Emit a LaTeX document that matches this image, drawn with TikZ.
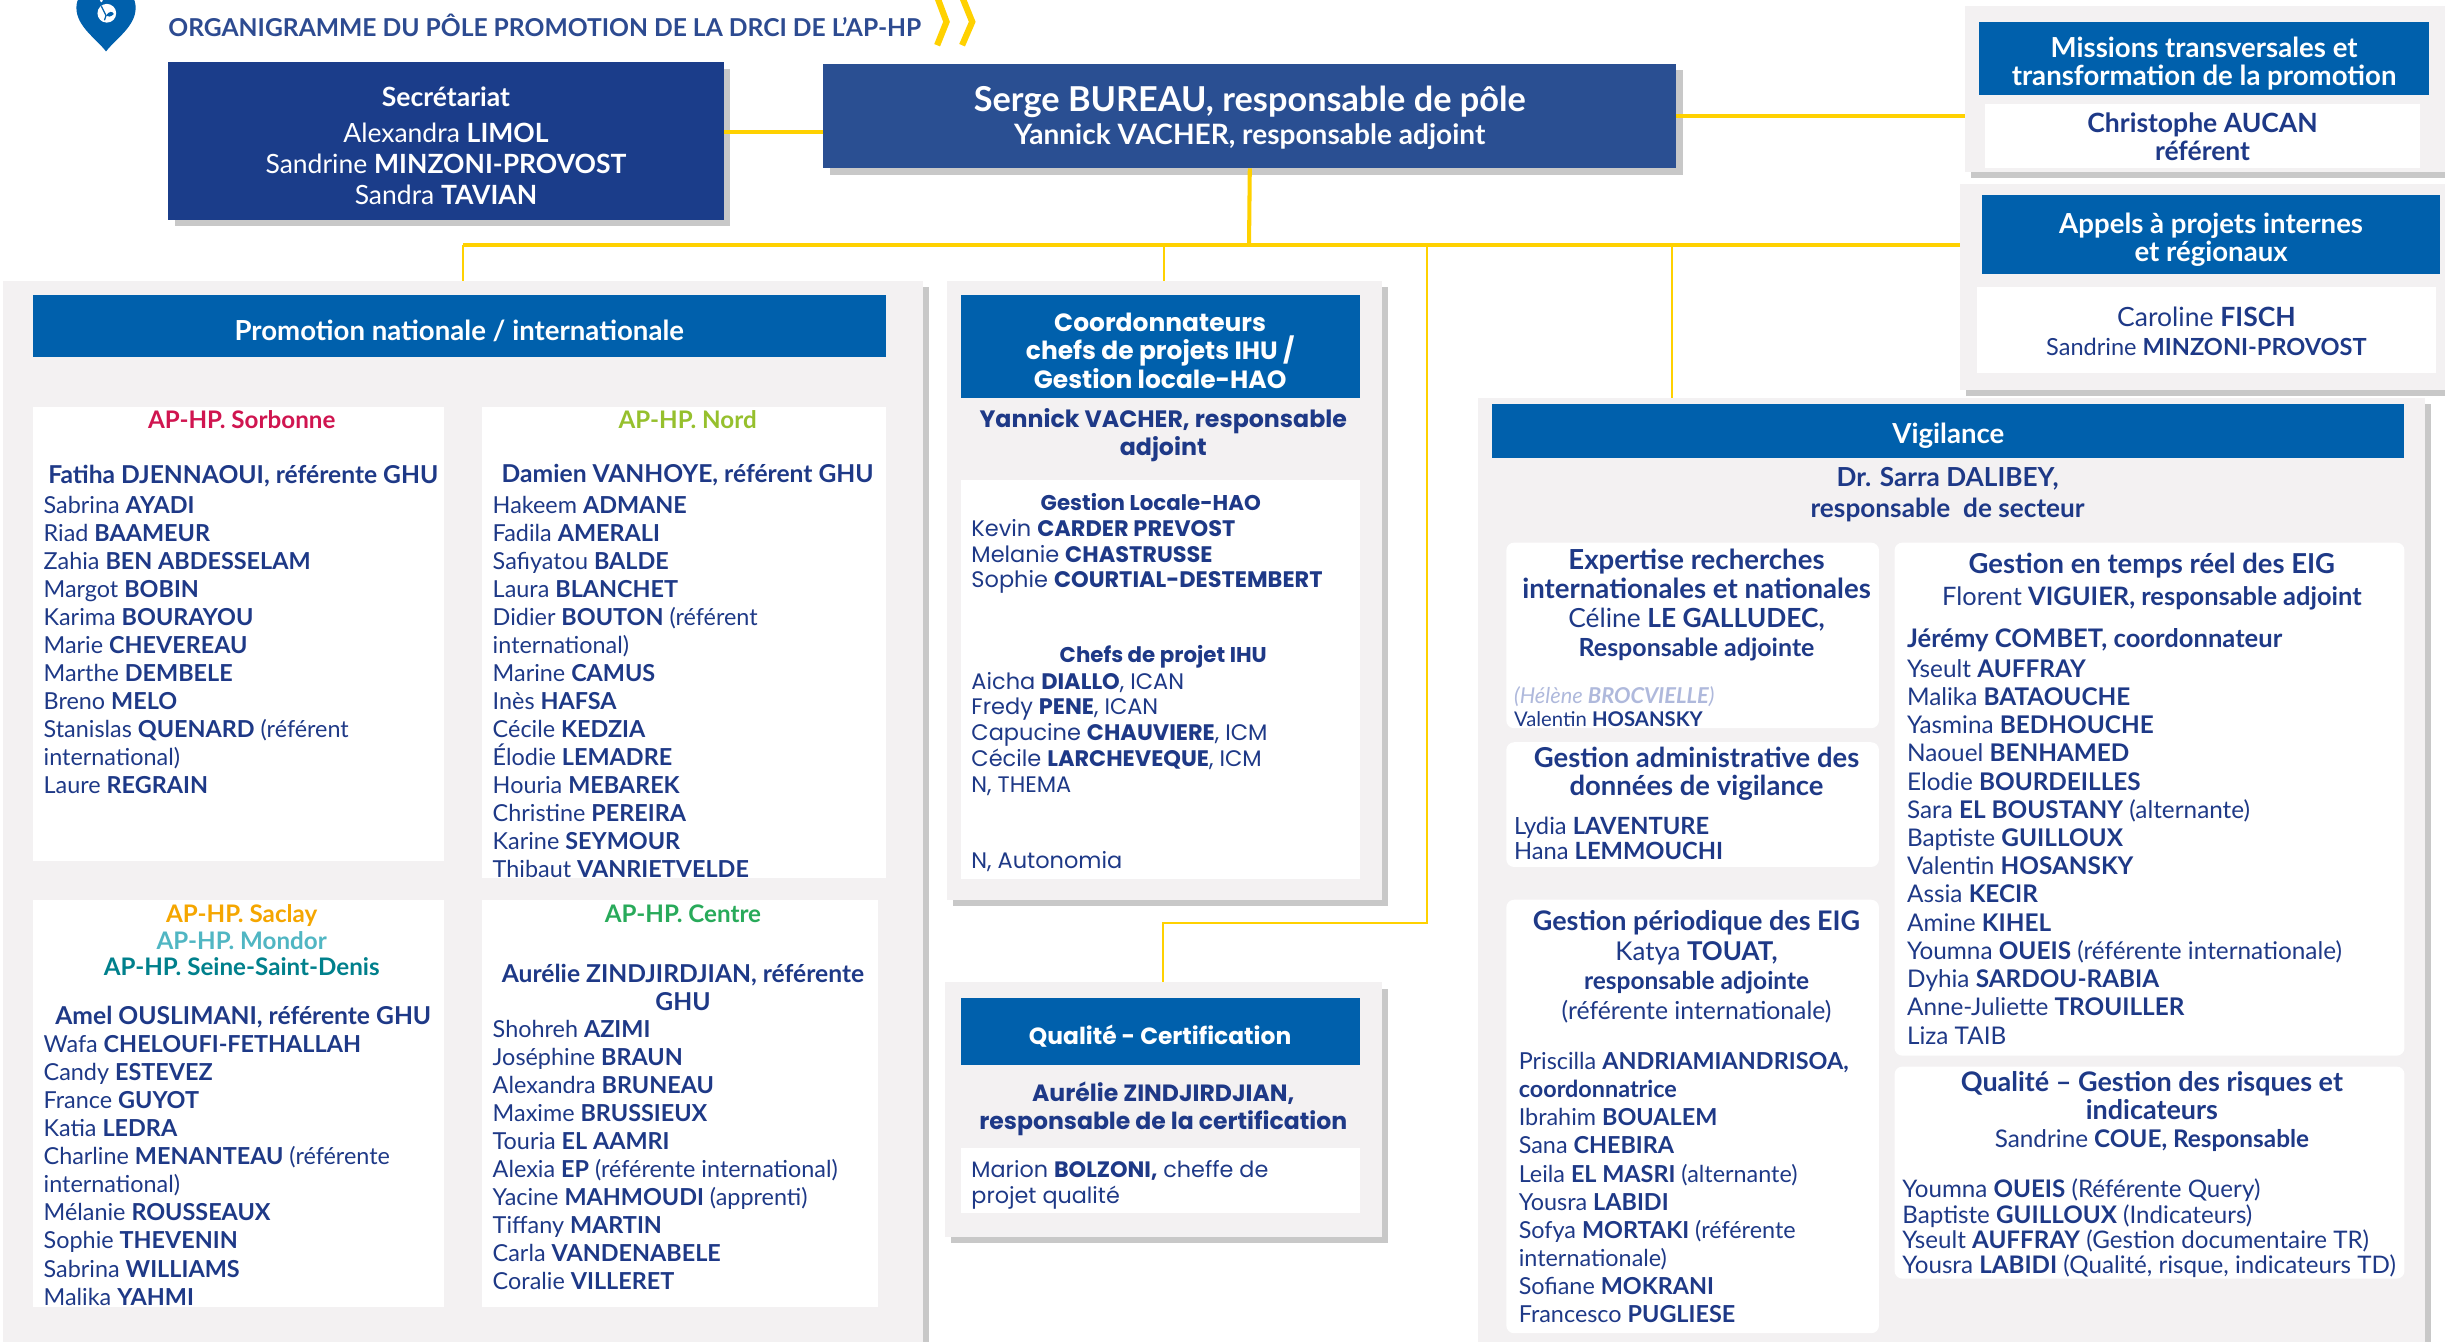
\documentclass[tikz,border=0pt]{standalone}
\usepackage{fontspec}
\setmainfont{Lato}
\newfontfamily\geofont{Poppins}
\usetikzlibrary{positioning,fit,shadows,calc}
\definecolor{navy}{RGB}{30,57,135}
\definecolor{titleblue}{RGB}{45,75,145}
\definecolor{hdrblue}{RGB}{0,96,172}
\definecolor{secblue}{RGB}{27,61,138}
\definecolor{chefblue}{RGB}{42,79,146}
\definecolor{panelgrey}{RGB}{243,241,242}
\definecolor{lineyellow}{RGB}{255,209,0}
\definecolor{sorbred}{RGB}{208,21,80}
\definecolor{nordgreen}{RGB}{150,192,45}
\definecolor{saclayorange}{RGB}{245,166,0}
\definecolor{mondorteal}{RGB}{80,182,195}
\definecolor{ssdteal}{RGB}{0,128,140}
\definecolor{centregreen}{RGB}{40,170,90}
\definecolor{ghostblue}{RGB}{175,185,220}
\newcommand\fsz[2]{\fontsize{#1}{#2}\selectfont}
\newcommand\pers[2]{#1 \textbf{#2}}

\begin{document}
\begin{tikzpicture}[x=1pt,y=-1pt,
    every node/.style={inner sep=0pt,outer sep=0pt},
    panel/.style={fill=panelgrey},
    dropsh/.style={drop shadow={shadow xshift=4pt,shadow yshift=-4pt,opacity=.3,fill=black!70}},
    hdr/.style={fill=hdrblue},
    subbox/.style={fill=white},
    roundbox/.style={fill=white,rounded corners=5pt},
    link/.style={draw=lineyellow,line width=2.6pt},
    twig/.style={draw=lineyellow,line width=1.4pt},
    htext/.style={text=white,align=center,yshift=-3pt,font=\bfseries\fsz{17.7}{18}},
    geohead/.style={text=white,align=center,yshift=-3pt,font=\geofont\bfseries\fsz{16}{18}},
    names/.style={anchor=north west,text=navy,align=left,font=\fsz{15}{18}},
    geonames/.style={anchor=north west,text=navy,align=left,font=\geofont\fsz{14.4}{16.5}},
    lead/.style={text=navy,align=center,font=\bfseries\fsz{15.8}{18}},
    site/.style={align=center,font=\bfseries\fsz{15.5}{17}}]
\fill[white] (0,0) rectangle (1568,860);
\useasboundingbox (0,0) rectangle (1568,860);

% title
\fill[hdrblue] (68,33) .. controls (62,25) and (49,17) .. (49,5) .. controls (49,-7) and (62,-9) .. (68,-3)
    .. controls (74,-9) and (87,-7) .. (87,5) .. controls (87,17) and (74,25) .. (68,33) -- cycle;
\fill[white] (68.5,8.5) circle (6);
\fill[white] (65,0.5) circle (1);
\fill[hdrblue] (68,10) .. controls (70,7) and (72,7) .. (73,9) .. controls (71,11) and (69,11) .. (68,10);
\draw[hdrblue,line width=.8pt] (65,4) -- (68,10) -- (67,13);
\node[anchor=west,text=titleblue,font=\bfseries\fsz{15.8}{18}] (title) at (108,16)
    {ORGANIGRAMME DU PÔLE PROMOTION DE LA DRCI DE L’AP-HP};
\draw[lineyellow,line width=4pt,line join=miter] (601,-2) -- (607,14) -- (601,29) (617,-2) -- (623.5,14) -- (617,29);

% direction
\node[fill=secblue,dropsh,fit={(108,40) (464,141)}] (sec) {};
\node[text=white,align=center,font=\fsz{17}{20}] (sectxt) at ([yshift=-3pt]sec.center)
    {\textbf{Secrétariat}\\[3pt]\pers{Alexandra}{LIMOL}\\\pers{Sandrine}{MINZONI-PROVOST}\\\pers{Sandra}{TAVIAN}};
\node[fill=chefblue,dropsh,fit={(528,41) (1075,108)}] (chef) {};
\node[text=white,align=center,font=\bfseries\fsz{18}{21}] (cheftxt) at ([yshift=-1pt]chef.center)
    {{\fsz{22}{21}Serge BUREAU, responsable de pôle}\\Yannick VACHER, responsable adjoint};

% missions, appels
\node[panel,dropsh,fit={(1260,4) (1575,110)}] (misP) {};
\node[hdr,fit={(1269,14) (1558,61)}] (misH) {};
\node[htext] (misHt) at (misH) {Missions transversales et\\transformation de la promotion};
\node[subbox,fit={(1273,67) (1552,108)}] (misW) {};
\node[lead,font=\bfseries\fsz{17}{18}] (misWt) at (misW) {Christophe AUCAN\\référent};
\node[panel,dropsh,fit={(1257,118) (1575,250)}] (appP) {};
\node[hdr,fit={(1271,125) (1565,176)}] (appH) {};
\node[htext] (appHt) at (appH) {Appels à projets internes\\et régionaux};
\node[subbox,fit={(1268,184) (1562,239)}] (appW) {};
\node[text=navy,align=center,font=\fsz{15.1}{19}] (appWt) at ([yshift=-1pt]appW.center)
    {{\fsz{17}{19}\pers{Caroline}{FISCH}}\\\pers{Sandrine}{MINZONI-PROVOST}};

% promotion nationale / internationale
\node[panel,dropsh,fit={(2,180) (592,866)}] (promoP) {};
\node[hdr,fit={(21,189) (568,229)}] (promoH) {};
\node[htext] (promoHt) at (promoH) {Promotion nationale / internationale};
\node[subbox,fit={(21,261) (285,552)}] (sorbW) {};
\node[site,text=sorbred] (sorbT) at (155,269) {AP-HP. Sorbonne};
\node[lead] (sorbL) at (156,305) {Fatiha DJENNAOUI, référente GHU};
\node[names] (sorbN) at (28,318) {\pers{Sabrina}{AYADI}\\\pers{Riad}{BAAMEUR}\\\pers{Zahia}{BEN ABDESSELAM}\\
    \pers{Margot}{BOBIN}\\\pers{Karima}{BOURAYOU}\\\pers{Marie}{CHEVEREAU}\\\pers{Marthe}{DEMBELE}\\
    \pers{Breno}{MELO}\\\pers{Stanislas}{QUENARD} (référent\\international)\\\pers{Laure}{REGRAIN}};
\node[subbox,fit={(309,261) (568,563)}] (nordW) {};
\node[site,text=nordgreen] (nordT) at (441,269) {AP-HP. Nord};
\node[lead] (nordL) at (441,305) {Damien VANHOYE, référent GHU};
\node[names] (nordN) at (316,318) {\pers{Hakeem}{ADMANE}\\\pers{Fadila}{AMERALI}\\\pers{Safiyatou}{BALDE}\\
    \pers{Laura}{BLANCHET}\\\pers{Didier}{BOUTON} (référent\\international)\\\pers{Marine}{CAMUS}\\
    \pers{Inès}{HAFSA}\\\pers{Cécile}{KEDZIA}\\\pers{Élodie}{LEMADRE}\\\pers{Houria}{MEBAREK}\\
    \pers{Christine}{PEREIRA}\\\pers{Karine}{SEYMOUR}\\\pers{Thibaut}{VANRIETVELDE}};
\node[subbox,fit={(21,577) (285,838)}] (saclW) {};
\node[site] (saclT) at (155,603) {\textcolor{saclayorange}{AP-HP. Saclay}\\\textcolor{mondorteal}{AP-HP. Mondor}\\
    \textcolor{ssdteal}{AP-HP. Seine-Saint-Denis}};
\node[lead] (saclL) at (156,652) {Amel OUSLIMANI, référente GHU};
\node[names] (saclN) at (28,664) {\pers{Wafa}{CHELOUFI-FETHALLAH}\\\pers{Candy}{ESTEVEZ}\\\pers{France}{GUYOT}\\
    \pers{Katia}{LEDRA}\\\pers{Charline}{MENANTEAU} (référente\\international)\\\pers{Mélanie}{ROUSSEAUX}\\
    \pers{Sophie}{THEVENIN}\\\pers{Sabrina}{WILLIAMS}\\\pers{Malika}{YAHMI}};
\node[subbox,fit={(309,577) (563,838)}] (centW) {};
\node[site,text=centregreen] (centT) at (438,586) {AP-HP. Centre};
\node[lead] (centL) at (438,633) {Aurélie ZINDJIRDJIAN, référente\\GHU};
\node[names] (centN) at (316,654) {\pers{Shohreh}{AZIMI}\\\pers{Joséphine}{BRAUN}\\\pers{Alexandra}{BRUNEAU}\\
    \pers{Maxime}{BRUSSIEUX}\\\pers{Touria}{EL AAMRI}\\\pers{Alexia}{EP} (référente international)\\
    \pers{Yacine}{MAHMOUDI} (apprenti)\\\pers{Tiffany}{MARTIN}\\\pers{Carla}{VANDENABELE}\\\pers{Coralie}{VILLERET}};

% coordonnateurs IHU / HAO
\node[panel,dropsh,fit={(607,180) (886,577)}] (coordP) {};
\node[hdr,fit={(616,189) (872,255)}] (coordH) {};
\node[geohead] (coordHt) at (coordH) {Coordonnateurs\\chefs de projets IHU /\\Gestion locale-HAO};
\node[lead,font=\geofont\bfseries\fsz{15.2}{18}] (coordL) at (746,279) {Yannick VACHER, responsable\\adjoint};
\node[subbox,fit={(616,308) (872,564)}] (coordW) {};
\node[lead,font=\geofont\bfseries\fsz{13.7}{16.5}] (haoT) at (738,322) {Gestion Locale-HAO};
\node[geonames] (haoN) at (623,333) {\pers{Kevin}{CARDER PREVOST}\\\pers{Melanie}{CHASTRUSSE}\\\pers{Sophie}{COURTIAL-DESTEMBERT}};
\node[lead,font=\geofont\bfseries\fsz{13.7}{16.5}] (ihuT) at (746,421) {Chefs de projet IHU};
\node[geonames] (ihuN) at (623,431) {\pers{Aicha}{DIALLO}, ICAN\\\pers{Fredy}{PENE}, ICAN\\\pers{Capucine}{CHAUVIERE}, ICM\\
    \pers{Cécile}{LARCHEVEQUE}, ICM\\N, THEMA};
\node[geonames] (autoN) at (623,546) {N, Autonomia};

% qualite certification
\node[panel,dropsh,fit={(606,630) (886,793)}] (qualP) {};
\node[hdr,fit={(616,640) (872,683)}] (qualH) {};
\node[geohead,font=\geofont\bfseries\fsz{15}{18}] (qualHt) at (qualH) {Qualité - Certification};
\node[lead,font=\geofont\bfseries\fsz{15.1}{18}] (qualL) at (746,711) {Aurélie ZINDJIRDJIAN,\\responsable de la certification};
\node[subbox,fit={(616,736) (872,778)}] (qualW) {};
\node[geonames,font=\geofont\fsz{14.3}{17}] (qualN) at (623,744) {Marion \textbf{BOLZONI,} cheffe de\\projet qualité};

% vigilance
\node[panel,dropsh,fit={(948,255) (1555,866)}] (vigP) {};
\node[hdr,fit={(957,259) (1542,294)}] (vigH) {};
\node[htext] (vigHt) at (vigH) {Vigilance};
\node[lead,font=\bfseries\fsz{16.8}{20}] (vigL) at (1249,317) {Dr. Sarra DALIBEY,\\responsable\ \ de secteur};
\node[roundbox,fit={(966,348) (1205,467)}] (expW) {};
\node[lead,font=\bfseries\fsz{17.7}{18.5}] (expT) at (1088,388) {Expertise recherches\\internationales et nationales\\
    {\mdseries\fsz{16.9}{18.5}Céline} {\fsz{16.9}{18.5}LE GALLUDEC,}\\{\fsz{16}{18.5}Responsable adjointe}};
\node[names,font=\fsz{13}{15}] (expN) at (971,440) {\textcolor{ghostblue}{\itshape\fsz{14}{15}(Hélène \textbf{BROCVIELLE})}\\
    \pers{Valentin}{HOSANSKY}};
\node[roundbox,fit={(966,476) (1205,556)}] (admW) {};
\node[lead,font=\bfseries\fsz{17.6}{18}] (admT) at (1088,496) {Gestion administrative des\\données de vigilance};
\node[names,font=\fsz{15.2}{16}] (admN) at (971,524) {\pers{Lydia}{LAVENTURE}\\\pers{Hana}{LEMMOUCHI}};
\node[roundbox,fit={(966,577) (1205,855)}] (perW) {};
\node[lead,font=\bfseries\fsz{17.3}{19}] (perT) at (1088,620) {Gestion périodique des EIG\\
    {\mdseries\fsz{16.6}{19}Katya} {\fsz{16.6}{19}TOUAT,}\\{\fsz{15.7}{19}responsable adjointe}\\
    {\mdseries\fsz{15.9}{19}(référente internationale)}};
\node[names] (perN) at (974,675) {\pers{Priscilla}{ANDRIAMIANDRISOA,}\\\textbf{coordonnatrice}\\\pers{Ibrahim}{BOUALEM}\\
    \pers{Sana}{CHEBIRA}\\\pers{Leila}{EL MASRI} (alternante)\\\pers{Yousra}{LABIDI}\\\pers{Sofya}{MORTAKI} (référente\\
    internationale)\\\pers{Sofiane}{MOKRANI}\\\pers{Francesco}{PUGLIESE}};
\node[roundbox,fit={(1215,348) (1542,677)}] (trW) {};
\node[lead,font=\bfseries\fsz{17.6}{21}] (trT) at (1380,373)
    {Gestion en temps réel des EIG\\{\fsz{16.3}{21}{\mdseries Florent} VIGUIER, responsable adjoint}};
\node[names,font=\fsz{15.6}{18.1}] (trN) at (1223,403) {{\bfseries\fsz{16.4}{18.1}Jérémy COMBET, coordonnateur}\\[1pt]
    \pers{Yseult}{AUFFRAY}\\\pers{Malika}{BATAOUCHE}\\
    \pers{Yasmina}{BEDHOUCHE}\\\pers{Naouel}{BENHAMED}\\\pers{Elodie}{BOURDEILLES}\\\pers{Sara}{EL BOUSTANY} (alternante)\\
    \pers{Baptiste}{GUILLOUX}\\\pers{Valentin}{HOSANSKY}\\\pers{Assia}{KECIR}\\\pers{Amine}{KIHEL}\\
    \pers{Youmna}{OUEIS} (référente internationale)\\\pers{Dyhia}{SARDOU-RABIA}\\\pers{Anne-Juliette}{TROUILLER}\\Liza TAIB};
\node[roundbox,fit={(1215,684) (1542,820)}] (risW) {};
\node[lead,font=\bfseries\fsz{17.3}{18}] (risT) at (1380,713) {Qualité – Gestion des risques et\\indicateurs\\
    {\fsz{15.6}{18}{\mdseries Sandrine} COUE, Responsable}};
\node[names,font=\fsz{15.5}{16.3}] (risN) at (1220,756) {\pers{Youmna}{OUEIS} (Référente Query)\\\pers{Baptiste}{GUILLOUX} (Indicateurs)\\
    \pers{Yseult}{AUFFRAY} (Gestion documentaire TR)\\\pers{Yousra}{LABIDI} (Qualité, risque, indicateurs TD)};

% liaisons
\coordinate (bus) at (801,157);
\coordinate (qbend) at (915,592);
\coordinate (vdrop) at (1072,255);
\draw[link] ([yshift=-10pt]chef.west) -- ([yshift=-10pt]chef.west -| sec.east);
\draw[link] (chef.east) -- (chef.east -| misP.west);
\draw[link] (chef.south) -- (bus);
\draw[link] (bus -| promoP.north) -- (bus -| appP.west);
\draw[twig] (bus -| promoP.north) -- (promoP.north);
\draw[twig] (bus -| coordP.north) -- (coordP.north);
\draw[twig] (bus -| qbend) -- (qbend) -| (qualP.north);
\draw[twig] (bus -| vdrop) -- (vigP.north -| vdrop);
\end{tikzpicture}
\end{document}
